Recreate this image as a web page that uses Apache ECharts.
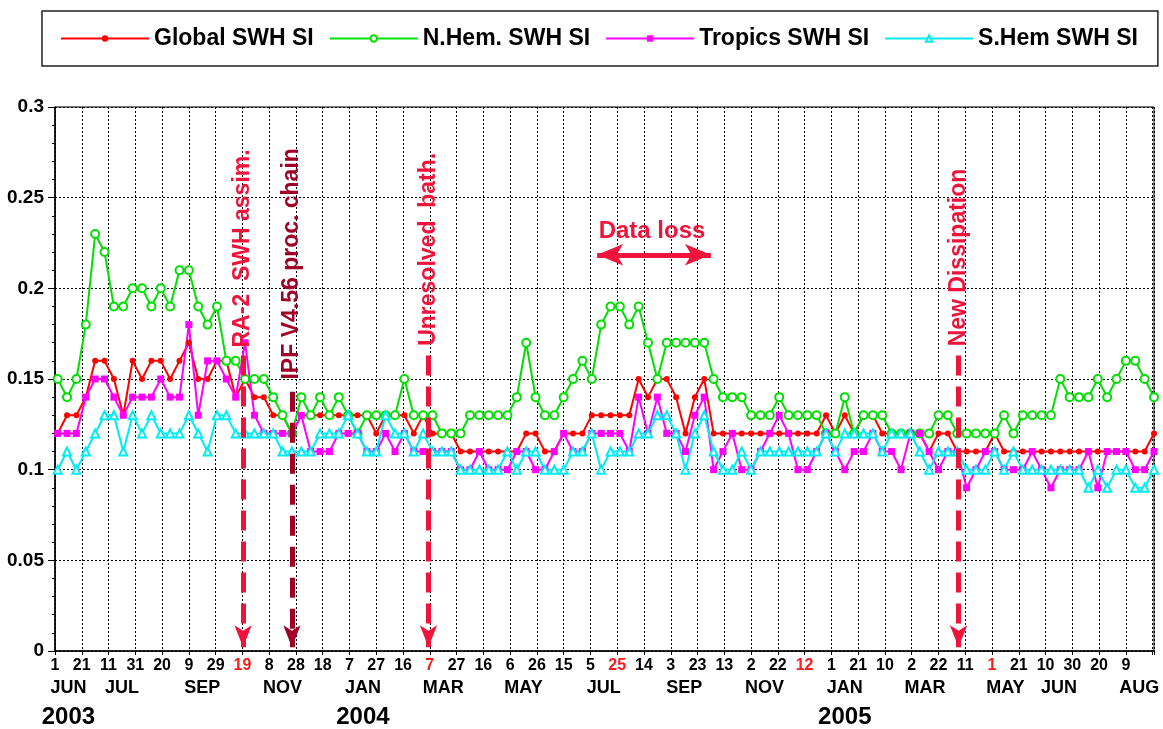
<!DOCTYPE html>
<html>
<head>
<meta charset="utf-8">
<script src="https://cdn.jsdelivr.net/npm/echarts@6/dist/echarts.min.js"></script>
<style>
  html, body { margin: 0; padding: 0; background: #fff; }
  #chart { width: 1163px; height: 729px; }
</style>
</head>
<body>
<div id="chart"></div>
<script>
// x is in days counted from 1 Jun 2003, one sample per week
const firstDay = 2
const stepDays = 7

const globalSI = [
  0.12, 0.13, 0.13, 0.14, 0.16, 0.16, 0.15, 0.13, 0.16, 0.15,
  0.16, 0.16, 0.15, 0.16, 0.17, 0.15, 0.15, 0.16, 0.16, 0.14,
  0.15, 0.14, 0.14, 0.13, 0.13, 0.12, 0.13, 0.13, 0.13, 0.13,
  0.13, 0.13, 0.13, 0.13, 0.12, 0.13, 0.13, 0.13, 0.12, 0.13,
  0.12, 0.12, 0.12, 0.11, 0.11, 0.11, 0.11, 0.11, 0.11, 0.11,
  0.12, 0.12, 0.11, 0.11, 0.12, 0.12, 0.12, 0.13, 0.13, 0.13,
  0.13, 0.13, 0.15, 0.14, 0.15, 0.15, 0.14, 0.12, 0.14, 0.15,
  0.12, 0.12, 0.12, 0.12, 0.12, 0.12, 0.12, 0.12, 0.12, 0.12,
  0.12, 0.12, 0.13, 0.12, 0.13, 0.12, 0.13, 0.13, 0.12, 0.12,
  0.12, 0.12, 0.12, 0.11, 0.12, 0.12, 0.11, 0.11, 0.11, 0.11,
  0.12, 0.11, 0.11, 0.11, 0.11, 0.11, 0.11, 0.11, 0.11, 0.11,
  0.11, 0.11, 0.11, 0.11, 0.11, 0.11, 0.11, 0.12
]
const nhemSI = [
  0.15, 0.14, 0.15, 0.18, 0.23, 0.22, 0.19, 0.19, 0.20, 0.20,
  0.19, 0.20, 0.19, 0.21, 0.21, 0.19, 0.18, 0.19, 0.16, 0.16,
  0.15, 0.15, 0.15, 0.14, 0.13, 0.12, 0.14, 0.13, 0.14, 0.13,
  0.14, 0.13, 0.12, 0.13, 0.13, 0.13, 0.13, 0.15, 0.13, 0.13,
  0.13, 0.12, 0.12, 0.12, 0.13, 0.13, 0.13, 0.13, 0.13, 0.14,
  0.17, 0.14, 0.13, 0.13, 0.14, 0.15, 0.16, 0.15, 0.18, 0.19,
  0.19, 0.18, 0.19, 0.17, 0.15, 0.17, 0.17, 0.17, 0.17, 0.17,
  0.15, 0.14, 0.14, 0.14, 0.13, 0.13, 0.13, 0.14, 0.13, 0.13,
  0.13, 0.13, 0.12, 0.12, 0.14, 0.12, 0.13, 0.13, 0.13, 0.12,
  0.12, 0.12, 0.12, 0.12, 0.13, 0.13, 0.12, 0.12, 0.12, 0.12,
  0.12, 0.13, 0.12, 0.13, 0.13, 0.13, 0.13, 0.15, 0.14, 0.14,
  0.14, 0.15, 0.14, 0.15, 0.16, 0.16, 0.15, 0.14
]
const tropicsSI = [
  0.12, 0.12, 0.12, 0.14, 0.15, 0.15, 0.14, 0.13, 0.14, 0.14,
  0.14, 0.15, 0.14, 0.14, 0.18, 0.13, 0.16, 0.16, 0.15, 0.14,
  0.17, 0.13, 0.12, 0.12, 0.12, 0.12, 0.13, 0.11, 0.11, 0.11,
  0.12, 0.12, 0.12, 0.11, 0.11, 0.12, 0.11, 0.12, 0.11, 0.11,
  0.11, 0.11, 0.11, 0.10, 0.10, 0.11, 0.10, 0.10, 0.10, 0.11,
  0.11, 0.10, 0.10, 0.11, 0.12, 0.11, 0.11, 0.12, 0.12, 0.12,
  0.12, 0.11, 0.14, 0.12, 0.14, 0.12, 0.12, 0.11, 0.13, 0.14,
  0.10, 0.11, 0.12, 0.10, 0.10, 0.11, 0.12, 0.13, 0.12, 0.10,
  0.10, 0.11, 0.12, 0.11, 0.10, 0.11, 0.11, 0.12, 0.11, 0.11,
  0.10, 0.12, 0.12, 0.11, 0.10, 0.11, 0.11, 0.09, 0.10, 0.11,
  0.11, 0.10, 0.10, 0.10, 0.11, 0.10, 0.09, 0.10, 0.10, 0.10,
  0.11, 0.09, 0.11, 0.11, 0.11, 0.10, 0.10, 0.11
]
const shemSI = [
  0.10, 0.11, 0.10, 0.11, 0.12, 0.13, 0.13, 0.11, 0.13, 0.12,
  0.13, 0.12, 0.12, 0.12, 0.13, 0.12, 0.11, 0.13, 0.13, 0.12,
  0.12, 0.12, 0.12, 0.12, 0.11, 0.11, 0.11, 0.11, 0.12, 0.12,
  0.12, 0.13, 0.12, 0.11, 0.11, 0.13, 0.12, 0.12, 0.11, 0.12,
  0.11, 0.11, 0.11, 0.10, 0.10, 0.10, 0.10, 0.10, 0.11, 0.10,
  0.11, 0.11, 0.10, 0.10, 0.10, 0.11, 0.11, 0.12, 0.10, 0.11,
  0.11, 0.11, 0.12, 0.12, 0.13, 0.13, 0.12, 0.10, 0.12, 0.13,
  0.11, 0.10, 0.10, 0.11, 0.10, 0.11, 0.11, 0.11, 0.11, 0.11,
  0.11, 0.11, 0.12, 0.11, 0.12, 0.12, 0.12, 0.12, 0.11, 0.12,
  0.12, 0.12, 0.11, 0.10, 0.11, 0.11, 0.11, 0.10, 0.10, 0.10,
  0.11, 0.10, 0.11, 0.10, 0.10, 0.10, 0.10, 0.10, 0.10, 0.10,
  0.09, 0.10, 0.09, 0.10, 0.10, 0.09, 0.09, 0.10
]

// one label every 20 days, starting 1 Jun 2003
const dayTickLabels = ['1', '21', '11', '31', '20', '9', '29', '19', '8', '28', '18', '7', '27', '16',
  '7', '27', '16', '6', '26', '15', '5', '25', '14', '3', '23', '13', '2', '22', '12', '1', '21',
  '10', '2', '22', '11', '1', '21', '10', '30', '20', '9']
const redTickDays = [140, 280, 420, 560, 700]
const monthDays = [10, 50, 110, 170, 230, 290, 350, 410, 470, 530, 590, 650, 710, 750, 810]
const monthNames = ['JUN', 'JUL', 'SEP', 'NOV', 'JAN', 'MAR', 'MAY', 'JUL', 'SEP', 'NOV', 'JAN', 'MAR', 'MAY', 'JUN', 'AUG']
const yearDays = [10, 230, 590]
const yearNames = ['2003', '2004', '2005']

// events marked with dashed arrows
const eventNames = ['RA-2  SWH assim.', 'IPF V4.56 proc. chain', 'Unresolved  bath.', 'New Dissipation']
const eventDays = [140.5, 177, 279, 675]
const dataLossDays = [405, 490]

const xMax = 821
const red = '#f0143c'
const darkRed = '#a00028'
const eventColors = [red, darkRed, red, red]
const eventTops = [0.163, 0.143, 0.163, 0.163]
const eventTextY = [0.222, 0.2135, 0.2215, 0.217]

function toPairs(values) {
  return values.map(function (v, i) { return [firstDay + stepDays * i, v] })
}

let chart = echarts.init(document.getElementById('chart'))

let markLines = eventDays.map(function (d, i) {
  return [
    { coord: [d, eventTops[i]], symbol: 'none', lineStyle: { color: eventColors[i] } },
    { coord: [d, 0.002], symbol: 'arrow', symbolSize: [13, 22] }
  ]
})
markLines.push([
  { coord: [dataLossDays[0], 0.2185], symbol: 'arrow', symbolSize: [16, 26],
    lineStyle: { color: red, type: 'solid', width: 5 } },
  { coord: [dataLossDays[1], 0.2185], symbol: 'arrow', symbolSize: [16, 26] }
])

let markPoints = eventDays.map(function (d, i) {
  return {
    coord: [d, eventTextY[i]],
    label: { formatter: eventNames[i], color: eventColors[i] }
  }
})
markPoints.push({
  coord: [446, 0.2315],
  label: { formatter: 'Data loss', color: red, rotate: 0, fontSize: 24 }
})

function lineSeries(name, values, color, symbol, size) {
  return {
    name: name,
    type: 'line',
    data: toPairs(values),
    symbol: symbol,
    symbolSize: size,
    lineStyle: { color: color, width: 2 },
    itemStyle: { color: color, borderWidth: 1.6 },
    emphasis: { disabled: true }
  }
}

chart.setOption({
  animation: false,
  backgroundColor: '#fff',
  textStyle: { fontFamily: 'Arial, "Liberation Sans", sans-serif' },
  legend: {
    data: ['Global SWH SI', 'N.Hem. SWH SI', 'Tropics SWH SI', 'S.Hem SWH SI'],
    left: 42,
    top: 11,
    padding: [16, 20, 16, 18],
    itemGap: 15,
    itemWidth: 88,
    itemHeight: 8,
    borderColor: '#222',
    borderWidth: 1.5,
    textStyle: { fontSize: 23, fontWeight: 'bold', color: '#000' }
  },
  grid: {
    left: 55,
    right: 9,
    top: 107,
    bottom: 71,
    show: true,
    borderColor: '#000',
    borderWidth: 1
  },
  xAxis: [
    {
      type: 'value',
      min: 0,
      max: xMax,
      interval: 20,
      axisLine: { lineStyle: { color: '#000', width: 1.5 } },
      axisTick: { length: 4, lineStyle: { color: '#000' } },
      splitLine: { show: true, lineStyle: { color: '#000', type: [2, 2], width: 1 } },
      axisLabel: {
        margin: 7,
        fontSize: 16,
        fontWeight: 'bold',
        color: '#000',
        formatter: function (value) {
          if (value % 20 !== 0) return ''
          let label = dayTickLabels[value / 20]
          if (label === undefined) return ''
          return redTickDays.indexOf(value) >= 0 ? '{r|' + label + '}' : label
        },
        rich: { r: { color: '#ff1a1a', fontSize: 16, fontWeight: 'bold' } }
      }
    },
    {
      type: 'value',
      min: 0,
      max: xMax,
      interval: 10,
      position: 'bottom',
      axisLine: { show: false },
      axisTick: { show: false },
      splitLine: { show: false },
      axisLabel: {
        margin: 26,
        color: '#000',
        formatter: function (value) {
          let m = monthDays.indexOf(value)
          if (m < 0) return ''
          let text = '{m|' + monthNames[m] + '}'
          let y = yearDays.indexOf(value)
          if (y >= 0) text += '\n{y|' + yearNames[y] + '}'
          return text
        },
        rich: {
          m: { fontSize: 18, fontWeight: 'bold', color: '#000', lineHeight: 22 },
          y: { fontSize: 24, fontWeight: 'bold', color: '#000', lineHeight: 30, verticalAlign: 'bottom' }
        }
      }
    }
  ],
  yAxis: {
    type: 'value',
    min: 0,
    max: 0.3,
    interval: 0.05,
    axisLine: { show: true, lineStyle: { color: '#000', width: 1.5 } },
    axisTick: { show: true, length: 7, lineStyle: { color: '#000' } },
    minorTick: { show: true, splitNumber: 5, length: 3, lineStyle: { color: '#000' } },
    splitLine: { show: true, lineStyle: { color: '#000', type: [2, 2], width: 1 } },
    axisLabel: { margin: 11, fontSize: 19, fontWeight: 'bold', color: '#000' }
  },
  series: [
    lineSeries('Global SWH SI', globalSI, '#ff0000', 'circle', 6),
    lineSeries('N.Hem. SWH SI', nhemSI, '#00e000', 'emptyCircle', 8),
    lineSeries('Tropics SWH SI', tropicsSI, '#ff00ff', 'rect', 7),
    lineSeries('S.Hem SWH SI', shemSI, '#00ecf4', 'emptyTriangle', 8),
    {
      name: 'events',
      type: 'line',
      data: [],
      z: 5,
      markLine: {
        silent: true,
        animation: false,
        label: { show: false },
        lineStyle: { width: 5, type: [20, 11], opacity: 1 },
        data: markLines
      },
      markPoint: {
        silent: true,
        animation: false,
        symbol: 'rect',
        symbolSize: 1,
        itemStyle: { color: 'rgba(0,0,0,0)' },
        label: {
          show: true,
          position: 'inside',
          rotate: 90,
          fontSize: 23,
          fontWeight: 'bold'
        },
        data: markPoints
      }
    }
  ]
})
</script>
</body>
</html>
